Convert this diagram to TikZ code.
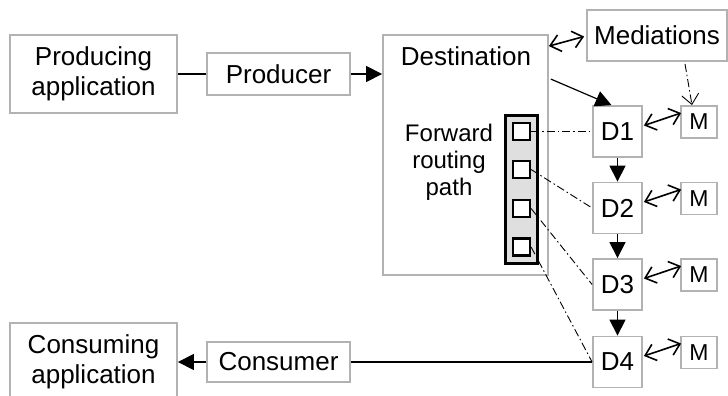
\documentclass[tikz,border=0pt]{standalone}
\usepackage{fontspec}
\setmainfont{Liberation Sans}
\usetikzlibrary{positioning, arrows.meta, calc}

\begin{document}
\begin{tikzpicture}[x=1pt, y=-1pt,
    box/.style={draw=gray!60, line width=1.8pt, inner sep=0pt, align=center,
                font=\fontsize{26}{30}\selectfont},
    dbox/.style={box, minimum width=49pt, minimum height=51pt,
                 font=\fontsize{26}{30}\selectfont},
    mbox/.style={box, minimum width=36pt, minimum height=32pt,
                 font=\fontsize{23}{27}\selectfont},
    slot/.style={draw, line width=2.2pt, fill=white, minimum size=17pt, inner sep=0pt},
    flow/.style={line width=1.2pt, -{Triangle[length=16pt,width=16pt]}},
    both/.style={line width=1.6pt,
                 {Straight Barb[length=10pt,width=17pt]}-{Straight Barb[length=10pt,width=17pt]}},
    dashdot/.style={line width=0.9pt, dash pattern=on 8pt off 3pt on 1.5pt off 3pt}]
\useasboundingbox (0,0) rectangle (728,396);

% applications and clients
\node[box, minimum width=167pt, minimum height=78pt] (prodapp) at (93.5,74) {Producing\\application};
\node[box, minimum width=143pt, minimum height=42pt] (producer) at (278.5,74) {Producer};
\node[box, minimum width=167pt, minimum height=78pt] (consapp) at (93.5,362) {Consuming\\application};
\node[box, minimum width=143pt, minimum height=40pt] (consumer) at (278.5,362) {Consumer};

% destination
\node[box, minimum width=165pt, minimum height=240pt] (dest) at (465.5,155) {};
\node[font=\fontsize{26}{30}\selectfont] (desttitle) at (466,56) {Destination};
\node[box, minimum width=140pt, minimum height=51pt] (medi) at (657,35.5) {Mediations};

% routing path
\node[draw, line width=3pt, fill=gray!25, minimum width=32pt, minimum height=148pt] (route) at (521,189) {};
\node[align=center, font=\fontsize{24}{27}\selectfont] (routetext) at (449,162) {Forward\\routing\\path};
\foreach \i/\y in {1/131.5, 2/169.5, 3/208.5, 4/247}
    \node[slot] (sq\i) at (521.5,\y) {};

% destinations and mediations
\foreach \i/\y in {1/131.5, 2/208, 3/284.5, 4/362}{
    \node[dbox] (d\i) at (617.5,\y) {D\i};
    \node[mbox] (m\i) at (699,\y-9.5) {M};
    \draw[both] ($(d\i.east)+(1,-6)$) -- ($(m\i.west)+(1,-9)$);
    \draw[dashdot] (sq\i.east) -- (d\i.west);
}
\foreach \i/\j in {1/2, 2/3, 3/4}
    \draw[flow] (d\i) -- (d\j);

% connectors
\draw[line width=1.2pt] (prodapp) -- (producer);
\draw[flow] (producer) -- (producer -| dest.west);
\draw[both] ($(dest.north east)+(0,12)$) -- ($(medi.west)+(-2,1)$);
\draw[flow] ($(dest.north east)+(2,45)$) -- ([xshift=-6pt]d1.north);
\draw[dashdot, -{Straight Barb[length=10pt,width=17pt]}] ($(medi.south)+(28,2)$) -- ([xshift=-7pt]m1.north);
\draw[line width=1.2pt] (d4) -- (consumer);
\draw[flow] (consumer) -- (consapp);
\end{tikzpicture}
\end{document}
